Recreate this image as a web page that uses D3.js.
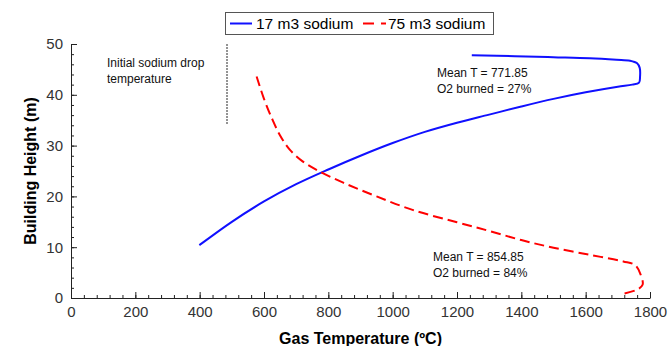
<!DOCTYPE html>
<html>
<head>
<meta charset="utf-8">
<script src="https://cdn.jsdelivr.net/npm/d3@7"></script>
<style>
  body { margin: 0; background: #fff; }
  svg { display: block; font-family: "Liberation Sans", Arial, sans-serif; }
</style>
</head>
<body>
<div id="chart"></div>
<script>
// 17 m3 sodium (blue, solid) - gas temperature (C) vs building height (m)
var temp17 = [399, 500, 600, 700, 800, 900, 1000, 1100, 1200, 1300, 1400, 1500, 1600, 1700, 1745, 1766, 1769, 1768, 1760, 1738, 1696, 1613, 1499, 1380, 1246];
var height17 = [10.4, 15.0, 19.0, 22.4, 25.3, 28.0, 30.5, 32.7, 34.5, 36.1, 37.7, 39.2, 40.5, 41.6, 42.0, 42.4, 43.5, 45.3, 46.2, 46.7, 46.9, 47.2, 47.4, 47.6, 47.8];

// 75 m3 sodium (red, dashed)
var temp75 = [577, 600, 625, 650, 680, 720, 770, 850, 950, 1064, 1200, 1300, 1400, 1500, 1613, 1717, 1753, 1769, 1777, 1758, 1707];
var height75 = [43.6, 39.2, 35.3, 32.0, 29.2, 26.9, 25.0, 22.6, 20.0, 17.3, 14.9, 13.2, 11.4, 9.9, 8.5, 7.2, 6.5, 4.9, 2.6, 1.6, 0.7];

// initial sodium drop temperature marker
var dropTemp = 485;
var dropHeights = [34.3, 50];

var xTicks = [0, 200, 400, 600, 800, 1000, 1200, 1400, 1600, 1800];
var yTicks = [0, 10, 20, 30, 40, 50];

var seriesNames = ["17 m3 sodium", "75 m3 sodium"];
var notes17 = ["Mean T = 771.85", "O2 burned = 27%"];
var notes75 = ["Mean T = 854.85", "O2 burned = 84%"];
var dropNote = ["Initial sodium drop", "temperature"];

var width = 669, height = 346;

var svg = d3.select("#chart").append("svg")
    .attr("width", width)
    .attr("height", height);

// set the ranges
var x = d3.scaleLinear().domain([0, 1800]).range([71, 650]);
var y = d3.scaleLinear().domain([0, 50]).range([298, 44]);

function pairs(xs, ys) {
    return xs.map(function (t, i) { return { t: t, h: ys[i] }; });
}

var line = d3.line()
    .x(function (d) { return x(d.t); })
    .y(function (d) { return y(d.h); })
    .curve(d3.curveCatmullRom.alpha(0.5));

// minor ticks first, then major ticks with labels
svg.append("g")
    .attr("transform", "translate(0,298)")
    .call(d3.axisBottom(x).tickValues(d3.range(0, 1801, 40)).tickSize(-3).tickSizeOuter(0).tickFormat(""))
    .call(function (g) { g.select(".domain").remove(); });

var xAxis = svg.append("g")
    .attr("transform", "translate(0,298)")
    .call(d3.axisBottom(x).tickValues(xTicks).tickSize(-6).tickSizeOuter(0).tickPadding(8).tickFormat(d3.format("d")));

svg.append("g")
    .attr("transform", "translate(71,0)")
    .call(d3.axisLeft(y).tickValues(d3.range(0, 51, 2)).tickSize(-3).tickSizeOuter(0).tickFormat(""))
    .call(function (g) { g.select(".domain").remove(); });

var yAxis = svg.append("g")
    .attr("transform", "translate(71,0)")
    .call(d3.axisLeft(y).tickValues(yTicks).tickSize(-6).tickSizeOuter(0).tickPadding(8));

svg.selectAll(".tick line").attr("stroke", "#222");
svg.selectAll(".domain").attr("stroke", "#222");
[xAxis, yAxis].forEach(function (a) {
    a.selectAll("text")
        .style("font-size", "15px")
        .style("font-family", "'Liberation Sans', Arial, sans-serif")
        .attr("fill", "#333");
});

// axis titles
svg.append("text")
    .attr("x", 360.5)
    .attr("y", 344)
    .attr("text-anchor", "middle")
    .style("font-size", "16px")
    .style("font-weight", "bold")
    .text("Gas Temperature (ºC)");

svg.append("text")
    .attr("transform", "translate(36,171) rotate(-90)")
    .attr("text-anchor", "middle")
    .style("font-size", "16px")
    .style("font-weight", "bold")
    .text("Building Height (m)");

// dotted marker line
svg.append("line")
    .attr("x1", x(dropTemp)).attr("x2", x(dropTemp))
    .attr("y1", y(dropHeights[0])).attr("y2", y(dropHeights[1]))
    .attr("stroke", "#333")
    .attr("stroke-width", 1.4)
    .attr("stroke-dasharray", "1.5,1.5");

// the curves
svg.append("path")
    .attr("d", line(pairs(temp17, height17)))
    .attr("fill", "none")
    .attr("stroke", "#1010ff")
    .attr("stroke-width", 2);

svg.append("path")
    .attr("d", line(pairs(temp75, height75)))
    .attr("fill", "none")
    .attr("stroke", "#ff0000")
    .attr("stroke-width", 2)
    .attr("stroke-dasharray", "10,5");

// annotations
function note(lines, x0, y0) {
    var t = svg.append("text")
        .attr("x", x0)
        .attr("y", y0)
        .style("font-size", "12px")
        .attr("fill", "#111");
    lines.forEach(function (s, i) {
        t.append("tspan").attr("x", x0).attr("dy", i === 0 ? 0 : 16).text(s);
    });
}
note(dropNote, 107, 67);
note(notes17, 437, 77);
note(notes75, 433, 261);

// legend
var legend = svg.append("g");
legend.append("rect")
    .attr("x", 225.5).attr("y", 12.5)
    .attr("width", 268).attr("height", 22)
    .attr("fill", "#fff")
    .attr("stroke", "#555");

legend.append("line")
    .attr("x1", 230).attr("x2", 252).attr("y1", 23.5).attr("y2", 23.5)
    .attr("stroke", "#1010ff").attr("stroke-width", 2);
legend.append("text")
    .attr("x", 256).attr("y", 29)
    .style("font-size", "15.5px")
    .text(seriesNames[0]);

legend.append("line")
    .attr("x1", 363).attr("x2", 386).attr("y1", 23.5).attr("y2", 23.5)
    .attr("stroke", "#ff0000").attr("stroke-width", 2)
    .attr("stroke-dasharray", "11,7");
legend.append("text")
    .attr("x", 388).attr("y", 29)
    .style("font-size", "15.5px")
    .text(seriesNames[1]);
</script>
</body>
</html>
